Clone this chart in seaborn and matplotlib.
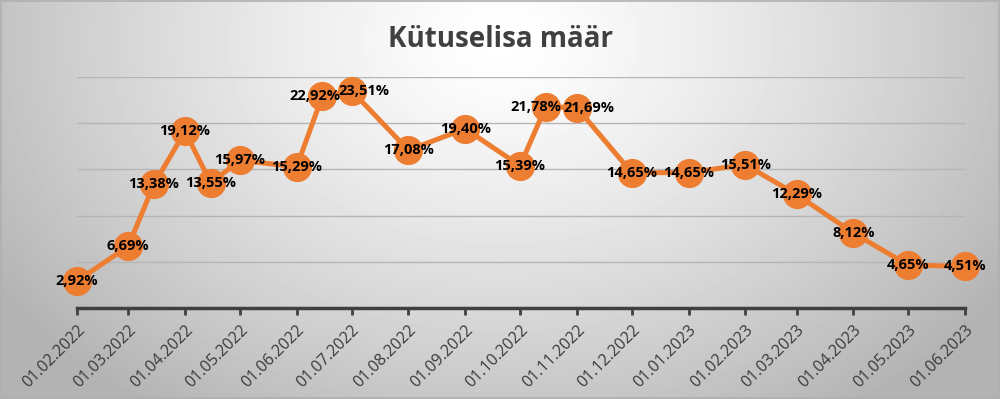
import numpy as np
import pandas as pd
import matplotlib
matplotlib.use("Agg")
import matplotlib.pyplot as plt
import matplotlib.dates as mdates
import seaborn as sns

# data
dates = ["01.02.2022", "01.03.2022", "15.03.2022", "01.04.2022", "15.04.2022",
         "01.05.2022", "01.06.2022", "15.06.2022", "01.07.2022", "01.08.2022",
         "01.09.2022", "01.10.2022", "15.10.2022", "01.11.2022", "01.12.2022",
         "01.01.2023", "01.02.2023", "01.03.2023", "01.04.2023", "01.05.2023",
         "01.06.2023"]
rates = [2.92, 6.69, 13.38, 19.12, 13.55, 15.97, 15.29, 22.92, 23.51, 17.08,
         19.40, 15.39, 21.78, 21.69, 14.65, 14.65, 15.51, 12.29, 8.12, 4.65, 4.51]
tick_dates = ["01.%02d.2022" % m for m in range(2, 13)] + \
             ["01.%02d.2023" % m for m in range(1, 7)]
title = "Kütuselisa määr"

df = pd.DataFrame({"kuupaev": pd.to_datetime(dates, format="%d.%m.%Y"),
                   "maar": rates})
ticks = pd.to_datetime(tick_dates, format="%d.%m.%Y")

sns.set_style("white")
plt.rcParams["font.family"] = ["Open Sans", "DejaVu Sans"]

orange = "#ED7D31"
fig = plt.figure(figsize=(10, 3.99), dpi=100)

# radial grey background like the Excel chart area
bg = fig.add_axes([0, 0, 1, 1], zorder=-10)
yy, xx = np.mgrid[0:399, 0:1000]
r = np.sqrt(((xx - 500) / 560.0) ** 2 + ((yy - 40) / 420.0) ** 2)
shade = np.clip(1.0 - 0.27 * r ** 1.3, 0.7, 1.0)
bg.imshow(shade, cmap="gray", vmin=0, vmax=1, aspect="auto",
          extent=[0, 1, 0, 1], origin="upper")
bg.set_axis_off()
fig.add_artist(plt.Rectangle((0.001, 0.002), 0.998, 0.995, transform=fig.transFigure,
                             fill=False, edgecolor="#b0b0b0", lw=1.2))

ax = fig.add_axes([0.077, 0.228, 0.888, 0.579])
ax.patch.set_alpha(0)
sns.lineplot(data=df, x="kuupaev", y="maar", ax=ax, color=orange, lw=3.6,
             marker="o", markersize=21, markeredgewidth=0, zorder=3)

# labels that were pulled apart in the original (offset in points)
nudge = {7: (-5, 0), 8: (9, 0), 12: (-7, 0), 13: (9, 0)}
for i, (d, v) in enumerate(zip(df["kuupaev"], df["maar"])):
    ax.annotate(("%.2f%%" % v).replace(".", ","), (d, v),
                xytext=nudge.get(i, (0, 0)), textcoords="offset points",
                ha="center", va="center", fontsize=10.5, fontweight="bold",
                color="black", zorder=5)

ax.set_xlim(df["kuupaev"].min(), df["kuupaev"].max())
ax.set_ylim(0, 25)
ax.set_yticks([5, 10, 15, 20, 25])
ax.yaxis.grid(True, color="#b5b5b5", lw=1)
ax.tick_params(axis="y", left=False, labelleft=False)
ax.set_xticks(ticks)
ax.xaxis.set_major_formatter(mdates.DateFormatter("%d.%m.%Y"))
ax.tick_params(axis="x", bottom=True, direction="out", length=5, width=2,
               color="#404040", labelsize=11.5, labelcolor="#404040", pad=5)
plt.setp(ax.get_xticklabels(), rotation=45, ha="right", rotation_mode="anchor",
         color="#3a3a3a")
for s in ["left", "right", "top"]:
    ax.spines[s].set_visible(False)
ax.spines["bottom"].set_color("#404040")
ax.spines["bottom"].set_linewidth(2.5)
ax.set_xlabel("")
ax.set_ylabel("")
for ln in ax.lines:
    ln.set_clip_on(False)

fig.text(0.5, 0.9, title, ha="center", va="center", fontsize=20,
         fontweight="bold", color="#404040")

fig.savefig("out.png", dpi=100)
